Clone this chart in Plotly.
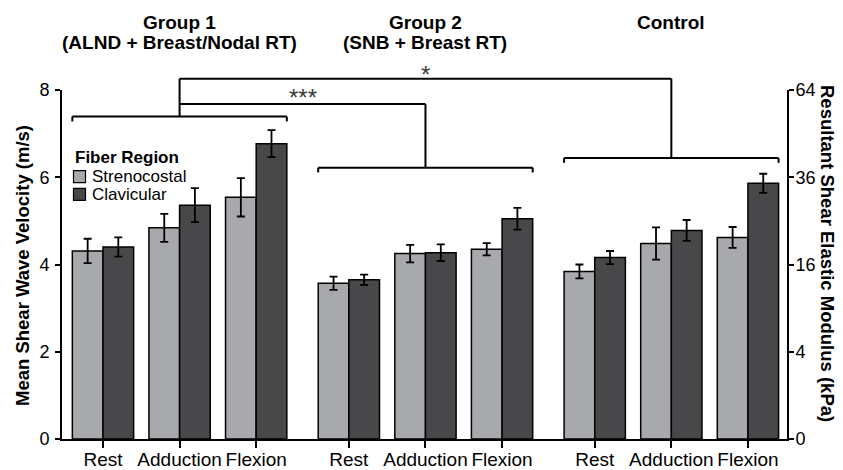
import plotly.graph_objects as go

# ---------------- data ----------------
group_titles = [["Group 1", "(ALND + Breast/Nodal RT)"],
                ["Group 2", "(SNB + Breast RT)"],
                ["Control"]]
positions = ["Rest", "Adduction", "Flexion"]
series_names = ["Strenocostal", "Clavicular"]

streno_mean = [4.31, 4.84, 5.54, 3.57, 4.25, 4.35, 3.84, 4.48, 4.62]
streno_err = [0.28, 0.32, 0.44, 0.15, 0.20, 0.14, 0.16, 0.37, 0.24]
clav_mean = [4.40, 5.36, 6.77, 3.65, 4.27, 5.05, 4.16, 4.78, 5.86]
clav_err = [0.22, 0.39, 0.31, 0.12, 0.19, 0.25, 0.15, 0.24, 0.22]

left_tickvals = [0, 2, 4, 6, 8]
right_ticktext = ["0", "4", "16", "36", "64"]

# ---------------- layout helpers ----------------
# the page body adds an 8px offset, so the figure is 8px smaller than the window
OFF = 8
W, H = 843 - OFF, 470 - OFF
ML, MR, MT, MB = 54, 56, 82, 31
PW, PH = W - ML - MR, H - MT - MB
YMAX = 8
GROUP_STEP = 3.21
XMIN, XMAX = -0.535, 8.93

FONT = "Arial, Liberation Sans, Helvetica, sans-serif"
LIGHT = "#a8a9ac"
DARK = "#48484a"

xs = [g * GROUP_STEP + p for g in range(len(group_titles)) for p in range(len(positions))]
xlabels = [positions[p] for g in range(len(group_titles)) for p in range(len(positions))]
centers = [g * GROUP_STEP + 1 for g in range(len(group_titles))]


def px_x(px):
    # screen pixel (window coords) -> paper x
    return (px - OFF - ML) / PW


def px_y(py):
    # screen pixel (window coords) -> paper y
    return (H - MB - (py - OFF)) / PH


fig = go.Figure()
for name, vals, errs, col in [(series_names[0], streno_mean, streno_err, LIGHT),
                              (series_names[1], clav_mean, clav_err, DARK)]:
    fig.add_trace(go.Bar(
        x=xs, y=vals, name=name, showlegend=False,
        marker=dict(color=col, line=dict(color="black", width=1.5)),
        error_y=dict(type="data", array=errs, visible=True,
                     color="black", thickness=1.8, width=4),
    ))
# empty helper trace so the right-hand (modulus) axis is drawn with its labels
fig.add_trace(go.Scatter(x=[], y=[], yaxis="y2", showlegend=False, hoverinfo="skip"))

shapes = []
line = dict(color="black", width=2)
TICK = 0.11


def seg(x0, y0, x1, y1):
    shapes.append(dict(type="line", xref="x", yref="paper",
                       x0=x0, x1=x1, y0=y0 / YMAX, y1=y1 / YMAX, line=line))


# group brackets
bracket_y = [7.39, 6.22, 6.44]
for g, by in enumerate(bracket_y):
    x0 = g * GROUP_STEP - 0.4
    x1 = g * GROUP_STEP + 2.4
    seg(x0, by, x1, by)
    seg(x0, by, x0, by - TICK)
    seg(x1, by, x1, by - TICK)

mid_y, top_y = 7.68, 8.26
seg(centers[0], bracket_y[0], centers[0], top_y)
seg(centers[0], mid_y, centers[1], mid_y)
seg(centers[1], mid_y, centers[1], bracket_y[1])
seg(centers[0], top_y, centers[2], top_y)
seg(centers[2], top_y, centers[2], bracket_y[2])

annotations = []


def ann(**kw):
    kw.setdefault("showarrow", False)
    kw.setdefault("xanchor", "center")
    kw.setdefault("yanchor", "middle")
    annotations.append(kw)


# significance stars
ann(x=(centers[0] + centers[1]) / 2, y=px_y(98), xref="x", yref="paper",
    text="***", font=dict(family=FONT, size=24, color="#3a3a3a"))
ann(x=(centers[0] + centers[2]) / 2, y=px_y(74), xref="x", yref="paper",
    text="*", font=dict(family=FONT, size=24, color="#3a3a3a"))

# group titles
title_rows = [22.5, 42]
for g, lines in enumerate(group_titles):
    for i, t in enumerate(lines):
        ann(x=centers[g], y=px_y(title_rows[i]), xref="x", yref="paper",
            text="<b>%s</b>" % t, font=dict(family=FONT, size=19, color="black"))

# axis titles
ann(x=px_x(22), y=px_y(266), xref="paper", yref="paper",
    text="<b>Mean Shear Wave Velocity (m/s)</b>", textangle=-90,
    font=dict(family=FONT, size=18.5, color="black"))
ann(x=px_x(827), y=px_y(253), xref="paper", yref="paper",
    text="<b>Resultant Shear Elastic Modulus (kPa)</b>", textangle=90,
    font=dict(family=FONT, size=18.5, color="black"))

# manual legend
ann(x=px_x(72.5), y=px_y(157.3), xref="paper", yref="paper", xanchor="left",
    text="<b>Fiber Region</b>", font=dict(family=FONT, size=17, color="black"))
for i, (nm, col) in enumerate([(series_names[0], LIGHT), (series_names[1], DARK)]):
    cy = 176.7 + i * 17.6
    shapes.append(dict(type="rect", xref="paper", yref="paper",
                       x0=px_x(73.5), x1=px_x(85.5), y0=px_y(cy + 6), y1=px_y(cy - 6),
                       fillcolor=col, line=dict(color="black", width=1.2)))
    ann(x=px_x(89.5), y=px_y(cy), xref="paper", yref="paper", xanchor="left",
        text=nm, font=dict(family=FONT, size=17, color="black"))

axis_common = dict(showgrid=False, zeroline=False, showline=True, linecolor="black",
                   linewidth=2, ticks="outside", tickcolor="black", tickwidth=1.5,
                   automargin=False)

fig.update_layout(
    width=W, height=H,
    margin=dict(l=ML, r=MR, t=MT, b=MB, autoexpand=False),
    paper_bgcolor="white", plot_bgcolor="white",
    barmode="group", bargap=0.2, bargroupgap=0,
    font=dict(family=FONT, size=18, color="black"),
    xaxis=dict(range=[XMIN, XMAX], tickvals=xs, ticktext=xlabels, ticklen=7,
               ticklabelstandoff=-5,
               tickfont=dict(family=FONT, size=19, color="black"), **axis_common),
    yaxis=dict(range=[0, YMAX], tickvals=left_tickvals, ticklen=5, ticklabelstandoff=2,
               tickfont=dict(family=FONT, size=18, color="black"), **axis_common),
    yaxis2=dict(range=[0, YMAX], overlaying="y", side="right", anchor="x",
                tickvals=left_tickvals, ticktext=right_ticktext, ticklen=5,
                ticklabelstandoff=-2,
                tickfont=dict(family=FONT, size=18, color="black"), **axis_common),
    shapes=shapes, annotations=annotations,
)

fig.write_html("out.html")
